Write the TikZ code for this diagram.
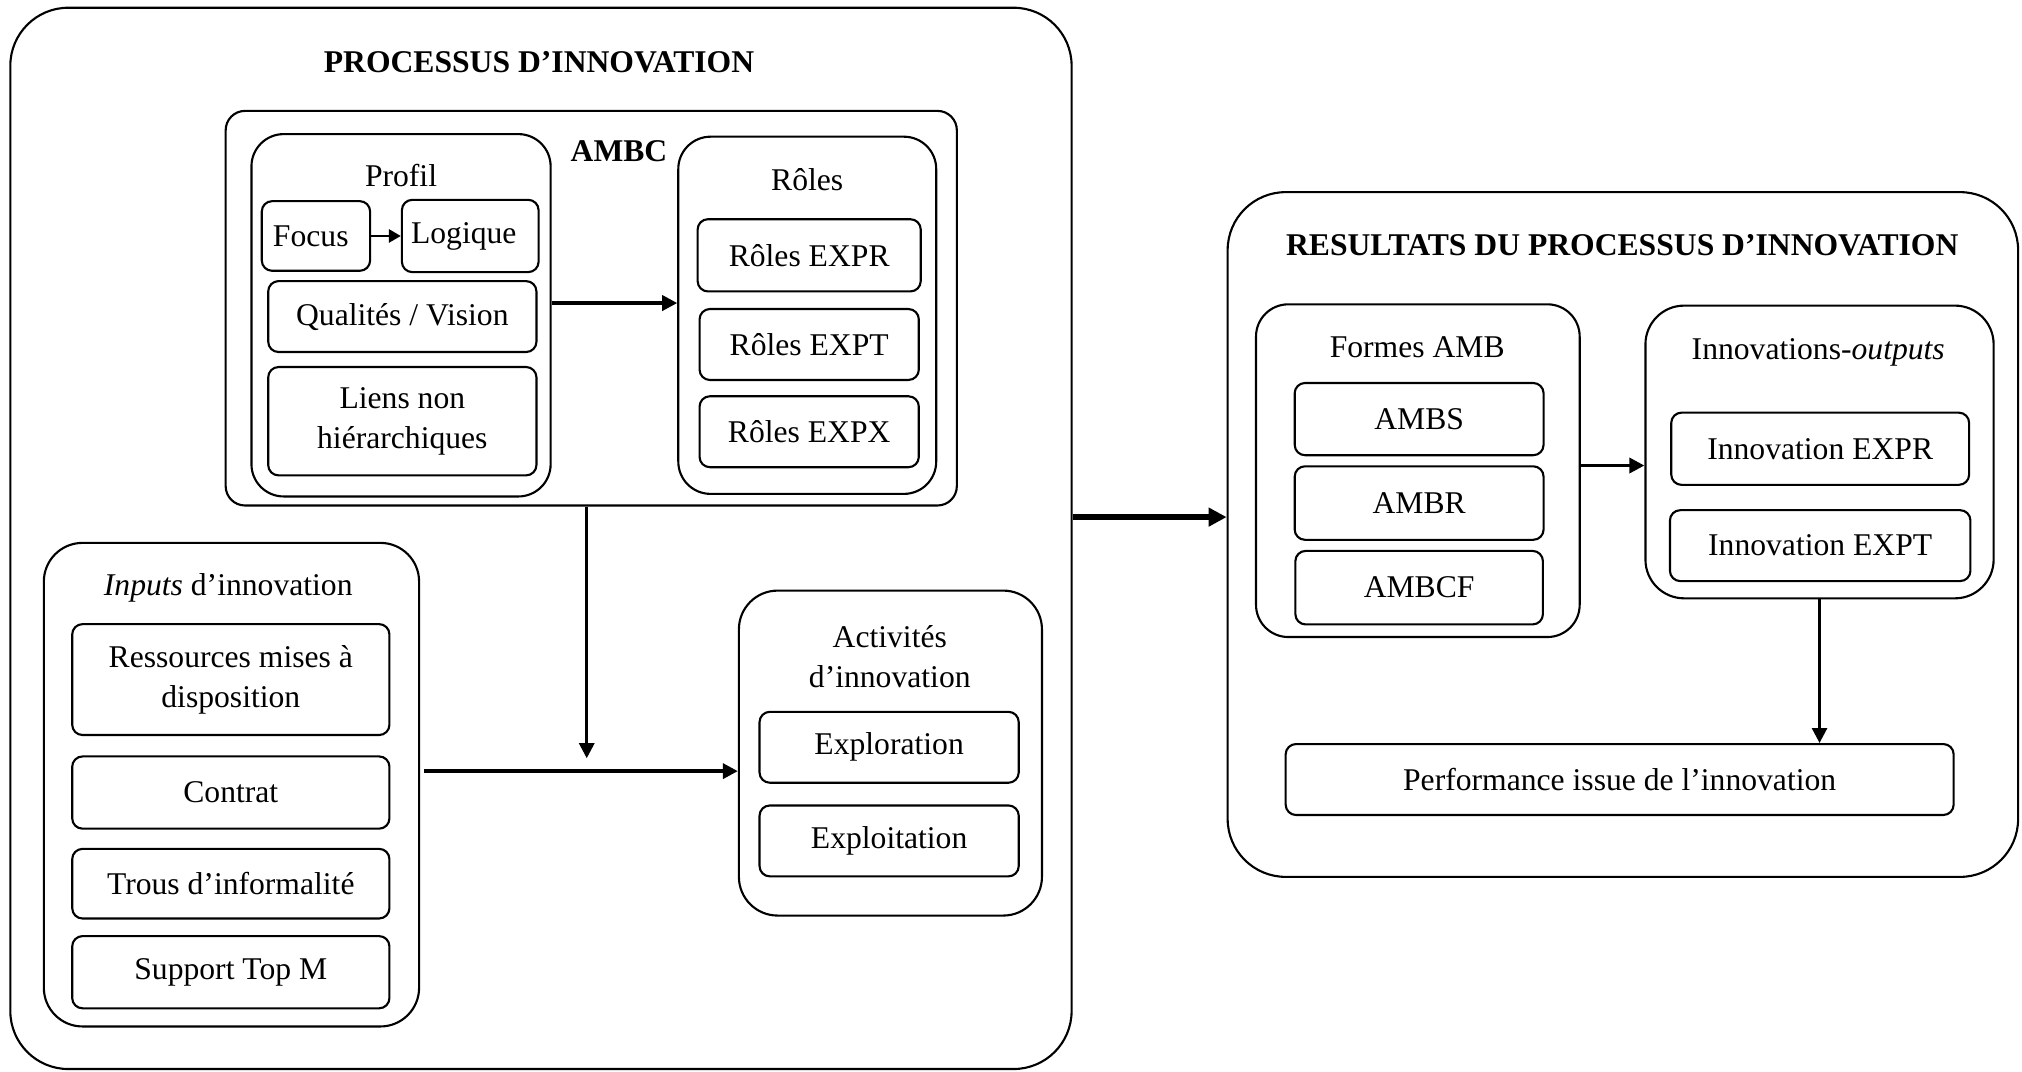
\documentclass[tikz,border=0pt]{standalone}
\usepackage{fontspec}
\setmainfont{Liberation Serif}
\usepackage{tikz}
\usetikzlibrary{positioning, arrows.meta}
\newlength{\pu}
\setlength{\pu}{0.12895mm}

\begin{document}
\begin{tikzpicture}[
  x=\pu, y=-\pu,
  font=\fontsize{9}{11.5}\selectfont,
  box/.style={draw, line width=0.6pt, rounded corners=8*\pu, align=center, inner sep=0pt},
  sz/.style 2 args={minimum width=#1*\pu, minimum height=#2*\pu},
  cbox/.style={box, rounded corners=25*\pu},
  big/.style={box, rounded corners=45*\pu},
  ttl/.style={font=\fontsize{9}{11.5}\selectfont\bfseries},
  arr/.style={-{Triangle[length=1.5mm, width=1.5mm]}, line width=1pt},
  varr/.style={-{Triangle[length=1.5mm, width=1.5mm]}, line width=0.8pt},
  barr/.style={-{Triangle[length=1.8mm, width=1.8mm]}, line width=1.6pt},
]
\useasboundingbox (0,0) rectangle (1568,831);

\node[big, sz={823}{823}] (proc) at (419.5,417.5) {};
\node[ttl] (procT) at (418,48) {PROCESSUS D’INNOVATION};

\node[box, rounded corners=15*\pu, sz={567}{306}] (ambc) at (458.5,239) {};
\node[ttl] (ambcT) at (480,117) {AMBC};

\node[cbox, sz={232}{281}] (profil) at (311,244.5) {};
\node (profilT) at (311,136) {Profil};
\node[box, sz={84}{54}] (focus) at (245,183) {Focus\hspace*{8\pu}};
\node[box, sz={106}{56}, right=2.97mm of focus] (logique) {Logique\hspace*{10\pu}};
\node[box, sz={208}{55}] (qualites) at (312,245.5) {Qualités / Vision};
\node[box, sz={208}{84}, below=1.29mm of qualites] (liens) {Liens non\\ hiérarchiques};
\draw[-{Triangle[length=1.2mm, width=1.3mm]}, line width=0.8pt] (focus.east) -- (focus.east -| logique.west);

\node[cbox, sz={200}{277}] (roles) at (626,244.5) {};
\node (rolesT) at (626,139) {Rôles};
\node[box, sz={173}{56}] (rexpr) at (627.5,198) {Rôles EXPR};
\node[box, sz={170}{55}, below=1.55mm of rexpr] (rexpt) {Rôles EXPT};
\node[box, sz={170}{55}, below=1.42mm of rexpt] (rexpx) {Rôles EXPX};
\draw[arr] ([yshift=9.5*\pu]profil.east) -- ([yshift=9.5*\pu]profil.east -| roles.west);

\node[box, rounded corners=30*\pu, sz={291}{375}] (inputs) at (179.5,608.5) {};
\node (inputsT) at (177,456) {\textit{Inputs} d’innovation};
\node[box, sz={246}{86}] (ress) at (179,527) {Ressources mises à\\ disposition};
\node[box, sz={246}{56}, below=1.93mm of ress] (contrat) {Contrat};
\node[box, sz={246}{54}, below=1.81mm of contrat] (trous) {Trous d’informalité};
\node[box, sz={246}{56}, below=1.55mm of trous] (support) {Support Top M};

\node[box, rounded corners=30*\pu, sz={235}{252}] (activ) at (690.5,584) {};
\node[align=center] (activT) at (690,509) {Activités\\ d’innovation};
\node[box, sz={201}{55}] (explor) at (689.5,579.5) {Exploration};
\node[box, sz={201}{55}, below=2.06mm of explor] (exploi) {Exploitation};

\coordinate (jonc) at (455,588);
\draw[varr] ([xshift=-3.5*\pu]ambc.south) -- (jonc);
\draw[arr] ([xshift=3*\pu, yshift=10.5*\pu]inputs.east) -- ([yshift=10.5*\pu]inputs.east -| activ.west);

\node[big, sz={613}{531}] (res) at (1258.5,414.5) {};
\node[ttl] (resT) at (1258,190) {RESULTATS DU PROCESSUS D’INNOVATION};
\draw[barr] ([yshift=16.5*\pu]proc.east) -- ([yshift=16.5*\pu]proc.east -| res.west);

\node[cbox, sz={251}{258}] (formes) at (1099.5,365) {};
\node (formesT) at (1099,269) {Formes AMB};
\node[box, sz={193}{56}] (ambs) at (1100.5,325) {AMBS};
\node[box, sz={193}{57}, below=0.9mm of ambs] (ambr) {AMBR};
\node[box, sz={192}{57}, below=0.9mm of ambr] (ambcf) {AMBCF};

\node[box, rounded corners=30*\pu, sz={270}{227}] (innov) at (1411,350.5) {};
\node (innovT) at (1410,273) {Innovations-\textit{outputs}};
\node[box, sz={231}{56}] (iexpr) at (1411.5,348) {Innovation EXPR};
\node[box, sz={233}{55}, below=2.32mm of iexpr] (iexpt) {Innovation EXPT};
\draw[arr] ([yshift=4*\pu]formes.east) -- ([yshift=4*\pu]formes.east -| innov.west);

\node[box, sz={518}{55}] (perf) at (1256,604.5) {Performance issue de l’innovation};
\draw[varr] (innov.south) -- (innov.south |- perf.north);
\end{tikzpicture}
\end{document}
